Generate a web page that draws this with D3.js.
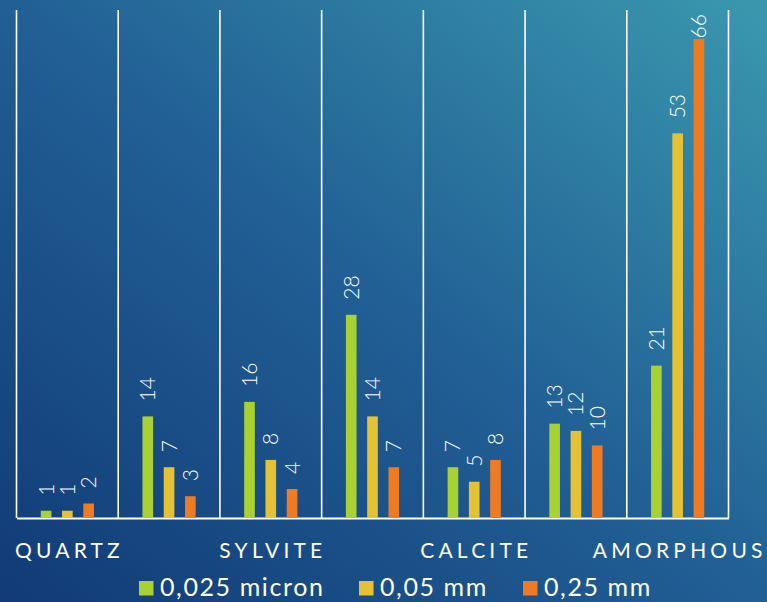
<!DOCTYPE html>
<html>
<head>
<meta charset="utf-8">
<script src="https://cdn.jsdelivr.net/npm/d3@7"></script>
<style>
  html, body { margin: 0; padding: 0; overflow: hidden; }
  svg { display: block; }
</style>
</head>
<body>
<svg id="chart" width="767" height="602"></svg>
<script>
// ---- data ----
const categories = ["QUARTZ", "", "SYLVITE", "", "CALCITE", "", "AMORPHOUS"];
const seriesNames = ["0,025 micron", "0,05 mm", "0,25 mm"];
const seriesColors = ["#a9d134", "#e5c135", "#ee7a24"];
const valuesMicron025 = [1, 14, 16, 28, 7, 13, 21];
const valuesMm005 = [1, 7, 8, 14, 5, 12, 53];
const valuesMm025 = [2, 3, 4, 7, 8, 10, 66];
const yDomain = [0, 70];

const seriesValues = [valuesMicron025, valuesMm005, valuesMm025];

const W = 767, H = 602;
const plot = { left: 16.5, right: 728.5, top: 10, bottom: 518 };
const font = "Lato, 'Open Sans', sans-serif";

const svg = d3.select("#chart");

// background gradient
const defs = svg.append("defs");
const grad = defs.append("linearGradient").attr("id", "bg")
  .attr("x1", "0").attr("y1", "1").attr("x2", "1").attr("y2", "0");
grad.append("stop").attr("offset", "0%").attr("stop-color", "#113a76");
grad.append("stop").attr("offset", "50%").attr("stop-color", "#215f95");
grad.append("stop").attr("offset", "100%").attr("stop-color", "#3a98ae");
svg.append("rect").attr("width", W).attr("height", H).attr("fill", "url(#bg)");

const idx = categories.map((_, i) => i);
const x = d3.scaleBand().domain(idx).range([plot.left, plot.right]).paddingInner(0).paddingOuter(0);
const xs = d3.scaleBand().domain(d3.range(seriesNames.length)).range([0, x.bandwidth()])
  .paddingInner(0.5).paddingOuter(1.14);
const y = d3.scaleLinear().domain(yDomain).range([plot.bottom, plot.top]);

// vertical gridlines at band boundaries
const bounds = idx.map(i => x(i)).concat([plot.right]);
svg.append("g").selectAll("line").data(bounds).join("line")
  .attr("x1", d => d).attr("x2", d => d)
  .attr("y1", plot.top).attr("y2", plot.bottom)
  .attr("stroke", "#ffffff").attr("stroke-width", 1.6);

// baseline axis
const xAxis = d3.axisBottom(x).tickSize(0).tickFormat("");
const ax = svg.append("g").attr("transform", `translate(0,${plot.bottom})`).call(xAxis);
ax.select(".domain").attr("stroke", "#ffffff").attr("stroke-width", 1.8);

// bars
const data = [];
idx.forEach(i => seriesValues.forEach((vals, s) => data.push({ i, s, v: vals[i] })));

svg.append("g").selectAll("rect").data(data).join("rect")
  .attr("x", d => x(d.i) + xs(d.s))
  .attr("width", xs.bandwidth())
  .attr("y", d => y(d.v))
  .attr("height", d => y(0) - y(d.v))
  .attr("fill", d => seriesColors[d.s]);

// value labels (rotated)
const lbl = svg.append("g").selectAll("text").data(data).join("text")
  .text(d => d.v)
  .attr("font-family", font).attr("font-weight", 300)
  .attr("font-size", 21).attr("fill", "#ffffff")
  .attr("text-anchor", "start").attr("dy", "0.36em");
lbl.each(function(d) {
  const len = this.getComputedTextLength();
  let start = y(d.v) - 15;
  if (start - len < plot.top + 4) start = plot.top + 4 + len;
  const cx = x(d.i) + xs(d.s) + xs.bandwidth() / 2;
  d3.select(this).attr("transform", `translate(${cx},${start}) rotate(-90)`);
});

// category labels
const ls = 4.2;
svg.append("g").selectAll("text").data(idx).join("text")
  .text(i => categories[i])
  .attr("x", i => x(i) + x.bandwidth() / 2 + ls / 2)
  .attr("y", 558)
  .attr("text-anchor", "middle")
  .attr("font-family", font).attr("font-weight", 400)
  .attr("font-size", 21).attr("letter-spacing", ls)
  .attr("fill", "#ffffff");

// legend
const legendX = [139, 359, 523];
const lg = svg.append("g").selectAll("g").data(seriesNames).join("g")
  .attr("transform", (d, i) => `translate(${legendX[i]},0)`);
lg.append("rect").attr("x", 0).attr("y", 581).attr("width", 14.5).attr("height", 14.5)
  .attr("fill", (d, i) => seriesColors[i]);
lg.append("text").text(d => d)
  .attr("x", 21).attr("y", 596)
  .attr("font-family", font).attr("font-weight", 400)
  .attr("font-size", 25).attr("letter-spacing", 1.6).attr("fill", "#ffffff");
</script>
</body>
</html>
